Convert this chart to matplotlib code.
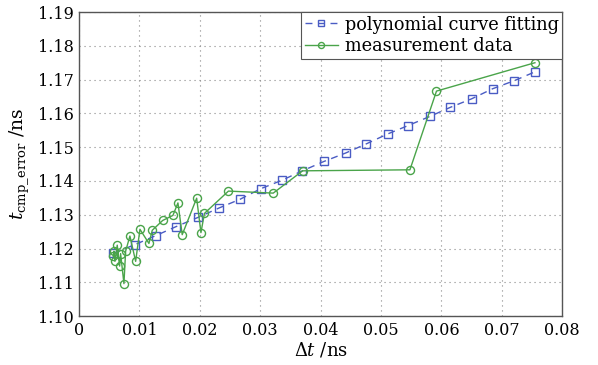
import numpy as np
import matplotlib
matplotlib.use("Agg")
import matplotlib.pyplot as plt

# polynomial curve fitting (blue squares)
fit_dt = [0.0057, 0.0092, 0.0127, 0.0161, 0.0197, 0.0232, 0.0267, 0.0301,
          0.0336, 0.0370, 0.0406, 0.0442, 0.0476, 0.0511, 0.0545, 0.0581,
          0.0615, 0.0650, 0.0685, 0.0721, 0.0755]
fit_t = [1.1186, 1.1211, 1.1238, 1.1265, 1.1292, 1.1320, 1.1346, 1.1377,
         1.1402, 1.1430, 1.1458, 1.1483, 1.1510, 1.1539, 1.1564, 1.1591,
         1.1618, 1.1643, 1.1673, 1.1697, 1.1723]

# measurement data (green circles)
meas_dt = [0.00568, 0.00579, 0.00596, 0.00634, 0.00674, 0.00690, 0.00745,
           0.00773, 0.00844, 0.00939, 0.01010, 0.01159, 0.01214, 0.01386,
           0.01556, 0.01639, 0.01710, 0.01949, 0.02020, 0.02078, 0.02475,
           0.03217, 0.03704, 0.0548, 0.0592, 0.0755]
meas_t = [1.1177, 1.1192, 1.1162, 1.1210, 1.1148, 1.1185, 1.1096,
          1.1192, 1.1237, 1.1162, 1.1257, 1.1215, 1.1254, 1.1283,
          1.1298, 1.1335, 1.1241, 1.1349, 1.1247, 1.1304, 1.1370,
          1.1364, 1.1430, 1.1433, 1.1666, 1.1750]

xticks = np.arange(0, 0.081, 0.01)
yticks = np.arange(1.10, 1.1901, 0.01)

plt.rcParams['font.family'] = 'DejaVu Serif'
plt.rcParams['mathtext.fontset'] = 'dejavuserif'

fig = plt.figure(figsize=(5.98, 3.65), dpi=100)
ax = fig.add_axes([0.132, 0.134, 0.808, 0.833])

ax.plot(fit_dt, fit_t, linestyle=(0, (5, 4)), color='#4a5cc4', lw=1.0,
        marker='s', markersize=5.2, markerfacecolor='none',
        markeredgecolor='#4a5cc4', markeredgewidth=1.0,
        label='polynomial curve fitting')
ax.plot(meas_dt, meas_t, '-', color='#4aa44a', lw=1.0,
        marker='o', markersize=5.8, markerfacecolor='none',
        markeredgecolor='#4aa44a', markeredgewidth=1.0,
        label='measurement data')

ax.set_xlim(0, 0.08)
ax.set_ylim(1.10, 1.19)
ax.set_xticks(xticks)
ax.set_yticks(yticks)
ax.set_xticklabels(['0'] + ['%.2f' % v for v in xticks[1:]])
ax.set_yticklabels(['%.2f' % v for v in yticks])
ax.tick_params(length=0, labelsize=11.5, pad=4)
ax.grid(True, linestyle=(0, (1, 3.5)), color='#888888', lw=0.8)
for s in ax.spines.values():
    s.set_color('#555555')
    s.set_linewidth(1.0)

ax.set_xlabel(r'$\Delta t$ /ns', fontsize=13, labelpad=1)
ax.set_ylabel(r'$t_{\rm cmp\_error}$ /ns', fontsize=13.5, labelpad=5)

leg = ax.legend(loc='upper right', fontsize=12.8, borderaxespad=0,
                fancybox=False, framealpha=1, edgecolor='#555555',
                handlelength=1.9, handletextpad=0.35, borderpad=0.2,
                labelspacing=0.2, markerscale=0.75)
leg.get_frame().set_linewidth(0.8)

fig.savefig('out.png', dpi=100)
